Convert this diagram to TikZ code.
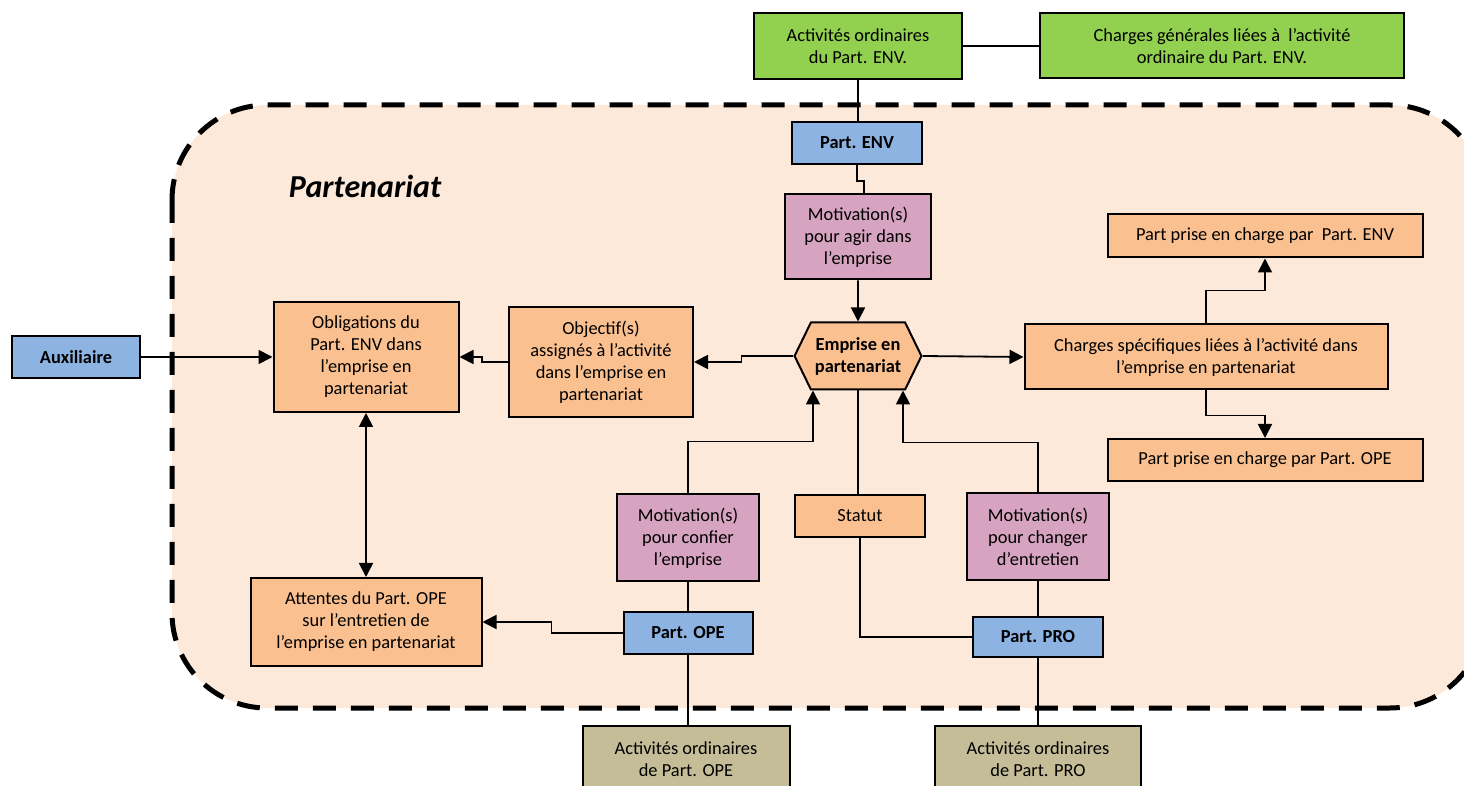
\documentclass[tikz,border=0pt]{standalone}
\usepackage{fontspec}
\setmainfont{Carlito}
\usetikzlibrary{arrows.meta, shapes.symbols}
\definecolor{envgreen}{RGB}{146,208,80}
\definecolor{partblue}{RGB}{141,179,226}
\definecolor{chargeorange}{RGB}{250,192,144}
\definecolor{motivpink}{RGB}{214,164,192}
\definecolor{activtan}{RGB}{196,189,151}
\definecolor{zonepeach}{RGB}{253,233,217}
\tikzstyle{box}=[draw, line width=1pt, align=center, inner sep=2pt, font=\fontsize{9.2}{11}\selectfont]
\tikzstyle{greenbox}=[box, fill=envgreen]
\tikzstyle{bluebox}=[box, fill=partblue, font=\fontsize{9.2}{11}\selectfont\bfseries]
\tikzstyle{orangebox}=[box, fill=chargeorange]
\tikzstyle{pinkbox}=[box, fill=motivpink]
\tikzstyle{tanbox}=[box, fill=activtan]
\tikzstyle{hexa}=[box, fill=chargeorange, font=\fontsize{9.2}{11}\selectfont\bfseries, signal, signal to=east and west, signal pointer angle=128]
\tikzstyle{link}=[line width=0.9pt]
\tikzstyle{arrow}=[link, -{Triangle[length=7pt,width=7pt]}]
\tikzstyle{biarrow}=[link, {Triangle[length=7pt,width=7pt]}-{Triangle[length=7pt,width=7pt]}]
\tikzstyle{zone}=[fill=zonepeach, line width=2.5pt, dash pattern=on 11.5pt off 7.5pt, rounded corners=47.5pt]

\begin{document}
\begin{tikzpicture}[x=0.5pt, y=-0.5pt]
    \useasboundingbox (0,0) rectangle (1464,786);
    \draw [zone] (172,105) rectangle (1485,708);
    \node [font=\fontsize{16}{19}\selectfont\bfseries\itshape] (title) at (365,186) {Partenariat};
    % top
    \node [greenbox, minimum width=104pt, minimum height=33pt] (actenv) at (858,46) {Activités ordinaires\\du Part. ENV.};
    \node [greenbox, minimum width=182pt, minimum height=32.5pt] (chargen) at (1222,46) {Charges générales liées à\ \ l’activité\\ordinaire du Part. ENV.};
    \node [bluebox, minimum width=65pt, minimum height=21pt] (penv) at (857,143) {Part. ENV};
    \node [pinkbox, minimum width=73pt, minimum height=42.5pt] (motagir) at (858,237) {Motivation(s)\\pour agir dans\\l’emprise};
    \node [hexa, minimum width=61pt, minimum height=33.5pt] (emp) at (858,356) {Emprise en\\partenariat};
    % left
    \node [orangebox, minimum width=92pt, minimum height=55pt] (obj) at (601,362) {Objectif(s)\\assignés à l’activité\\dans l’emprise en\\partenariat};
    \node [orangebox, minimum width=92.5pt, minimum height=55pt] (oblig) at (366,357) {Obligations du\\Part. ENV dans\\l’emprise en\\partenariat};
    \node [bluebox, minimum width=64pt, minimum height=21pt] (aux) at (76,357) {Auxiliaire};
    \node [orangebox, minimum width=115.5pt, minimum height=44pt] (att) at (366,622) {Attentes du Part. OPE\\sur l’entretien de\\l’emprise en partenariat};
    % bottom
    \node [pinkbox, minimum width=71pt, minimum height=43.5pt] (motconf) at (688,538) {Motivation(s)\\pour confier\\l’emprise};
    \node [bluebox, minimum width=64.5pt, minimum height=21pt] (pope) at (688,633) {Part. OPE};
    \node [tanbox, minimum width=103.5pt, minimum height=33pt] (actope) at (686,759) {Activités ordinaires\\de Part. OPE};
    \node [orangebox, minimum width=65pt, minimum height=21pt] (statut) at (860,516) {Statut};
    \node [pinkbox, minimum width=71pt, minimum height=43.5pt] (motchg) at (1038,537) {Motivation(s)\\pour changer\\d’entretien};
    \node [bluebox, minimum width=65pt, minimum height=20pt] (ppro) at (1038,637) {Part. PRO};
    \node [tanbox, minimum width=103pt, minimum height=33pt] (actpro) at (1038,759) {Activités ordinaires\\de Part. PRO};
    % right
    \node [orangebox, minimum width=181.5pt, minimum height=32.5pt] (chspec) at (1206,357) {Charges spécifiques liées à l’activité dans\\l’emprise en partenariat};
    \node [orangebox, minimum width=157.5pt, minimum height=21.5pt] (partenv) at (1265,236) {Part prise en charge par\ \ Part. ENV};
    \node [orangebox, minimum width=157.5pt, minimum height=21pt] (partope) at (1265,460) {Part prise en charge par Part. OPE};
    % links
    \draw [link] (actenv) -- (chargen);
    \draw [link] (actenv.south) -- (actenv.south |- penv.north);
    \draw [link] (penv.south) -- ++(0,16) -| ([xshift=3pt]motagir.north);
    \draw [arrow] (motagir) -- (emp);
    \draw [arrow] (emp.west) -- ++(-52,0) |- (obj.east);
    \draw [arrow] (obj.west) -- ++(-26,0) |- (oblig.east);
    \draw [arrow] (aux) -- (oblig);
    \draw [biarrow] (oblig) -- (att);
    \draw [arrow] (motconf.north) -- ++(0,-52) -| ([xshift=-22.5pt]emp.south);
    \draw [arrow] (motchg.north) -- ++(0,-50) -| ([xshift=22.5pt]emp.south);
    \draw [link] (emp.south) -- (emp.south |- statut.north);
    \draw [link] (statut.south) |- (ppro.west);
    \draw [link] (motconf) -- (pope);
    \draw [link] (pope.south) -- (pope.south |- actope.north);
    \draw [arrow] (pope.west) -- ++(-71,0) |- (att.east);
    \draw [link] (motchg) -- (ppro);
    \draw [link] (ppro) -- (actpro);
    \draw [arrow] (emp.east) -- (chspec.west);
    \draw [arrow] (chspec.north) -- ++(0,-33) -| (partenv.south);
    \draw [arrow] (chspec.south) -- ++(0,25) -| (partope.north);
\end{tikzpicture}
\end{document}
